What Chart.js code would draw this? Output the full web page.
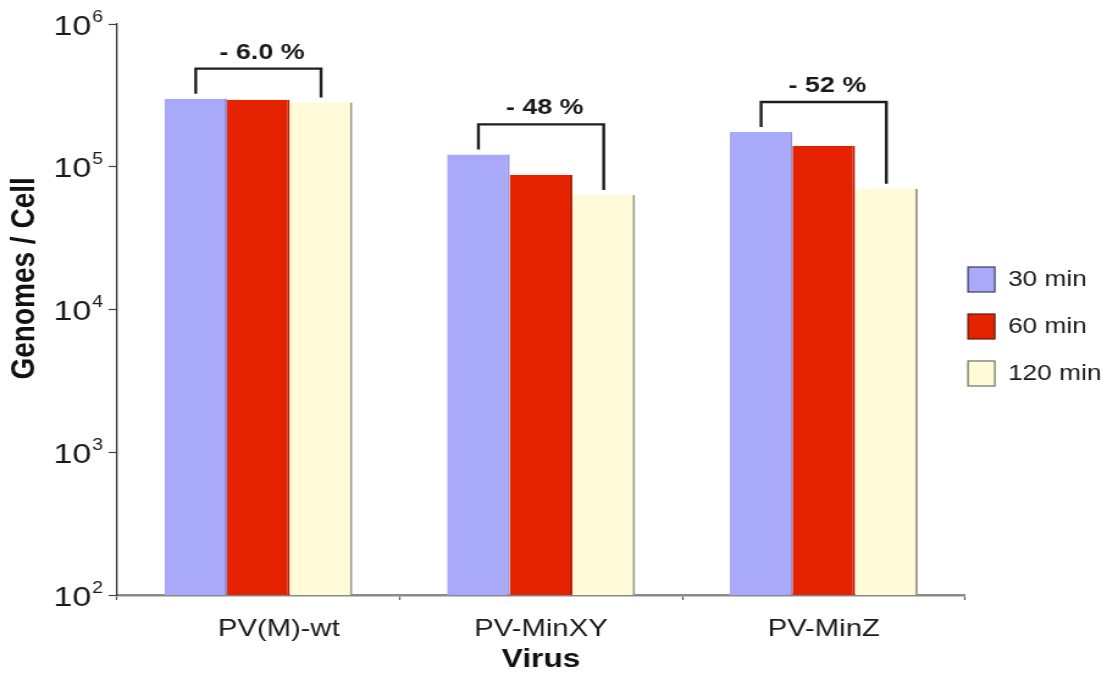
<!DOCTYPE html>
<html>
<head>
<meta charset="utf-8">
<title>Genomes per cell by virus</title>
<script src="https://cdn.jsdelivr.net/npm/chart.js@4.4.1/dist/chart.umd.min.js"></script>
<style>
  html, body { margin: 0; padding: 0; background: #ffffff; overflow: hidden; }
  #wrap { width: 1107px; height: 685px; overflow: hidden; }
  /* the figure is drawn on a narrower canvas and widened to the page */
  #c { display: block; transform: scaleX(1.2205); transform-origin: 0 0; }
</style>
</head>
<body>
<div id="wrap"><canvas id="c" width="907" height="685"></canvas></div>
<script>
// ---- data ----
const categories = ['PV(M)-wt', 'PV-MinXY', 'PV-MinZ'];
const seriesNames = ['30 min', '60 min', '120 min'];
const min30 = [300000, 122000, 175000];
const min60 = [295000, 88000, 140000];
const min120 = [282000, 63500, 70000];
const dropLabels = ['- 6.0 %', '- 48 %', '- 52 %'];
const yTicks = [1e2, 1e3, 1e4, 1e5, 1e6];

// ---- styles ----
const FONT = '"Liberation Sans", Arial, Helvetica, sans-serif';
const INK = '#1a1a1a';
const fills = ['#a9a9f9', '#e52200', '#fffbd8'];
const edges = ['#9090dc', '#b81a00', '#9a998a'];
const legendEdges = ['#3c3c5a', '#5a1a10', '#6e6e5e'];

Chart.defaults.font.family = FONT;
Chart.defaults.color = INK;

// powers of ten on the value axis, written as 10 with a raised exponent
const powerLabels = {
  id: 'powerLabels',
  afterDraw(chart) {
    const scale = chart.scales.y;
    const ctx = chart.ctx;
    const right = scale.right - 7 - 4.5;
    ctx.save();
    ctx.fillStyle = INK;
    ctx.textBaseline = 'alphabetic';
    scale.ticks.forEach(t => {
      const y = scale.getPixelForValue(t.value);
      const exp = String(Math.round(Math.log10(t.value)));
      ctx.font = '16px ' + FONT;
      const ew = ctx.measureText(exp).width;
      ctx.textAlign = 'right';
      ctx.fillText(exp, right, y - 2.5);
      ctx.font = '28px ' + FONT;
      ctx.fillText('10', right - ew - 0.6, y + 10.5);
    });
    ctx.restore();
  }
};

// legend on the right, one box per series
const sideLegend = {
  id: 'sideLegend',
  afterDraw(chart) {
    const ctx = chart.ctx;
    const x = chart.chartArea.right + 2.4;
    ctx.save();
    chart.data.datasets.forEach((ds, i) => {
      const top = 267 + i * 47;
      ctx.fillStyle = ds.backgroundColor;
      ctx.fillRect(x, top, 22, 25);
      ctx.strokeStyle = legendEdges[i];
      ctx.lineWidth = 1.2;
      ctx.strokeRect(x, top, 22, 25);
      ctx.fillStyle = INK;
      ctx.font = '21.5px ' + FONT;
      ctx.textAlign = 'left';
      ctx.textBaseline = 'middle';
      ctx.fillText(ds.label, x + 32.8, top + 13);
    });
    ctx.restore();
  }
};

// bracket from the 30 min bar to the 120 min bar with the drop above it
const dropBrackets = {
  id: 'dropBrackets',
  afterDatasetsDraw(chart) {
    const ctx = chart.ctx;
    const first = chart.getDatasetMeta(0).data;
    const mid = chart.getDatasetMeta(1).data;
    const last = chart.getDatasetMeta(2).data;
    ctx.save();
    categories.forEach((c, i) => {
      const a = first[i], b = mid[i], z = last[i];
      const peak = Math.min(a.y, b.y, z.y);
      const top = peak - 30;
      ctx.beginPath();
      ctx.moveTo(a.x, a.y - 5);
      ctx.lineTo(a.x, top);
      ctx.lineTo(z.x, top);
      ctx.lineTo(z.x, z.y - 5);
      ctx.strokeStyle = '#1e1e1e';
      ctx.lineWidth = 2.4;
      ctx.lineJoin = 'miter';
      ctx.stroke();
      ctx.fillStyle = INK;
      ctx.font = 'bold 22px ' + FONT;
      ctx.textAlign = 'center';
      ctx.textBaseline = 'middle';
      ctx.fillText(dropLabels[i], (a.x + z.x) / 2 + 3, top - 16);
    });
    ctx.restore();
  }
};

const series = [min30, min60, min120];

new Chart(document.getElementById('c'), {
  type: 'bar',
  data: {
    labels: categories,
    datasets: series.map((vals, i) => ({
      label: seriesNames[i],
      data: vals,
      backgroundColor: fills[i],
      borderColor: edges[i],
      borderWidth: { top: 0, left: 0, bottom: 0, right: 2 },
      borderSkipped: false,
      categoryPercentage: 0.665,
      barPercentage: 1.0
    }))
  },
  options: {
    responsive: false,
    animation: false,
    layout: { padding: { top: 24, right: 116.3, bottom: 0, left: 0 } },
    plugins: {
      legend: { display: false },
      tooltip: { enabled: false }
    },
    scales: {
      x: {
        z: 1,
        grid: {
          display: true, drawOnChartArea: false, drawTicks: true,
          tickLength: 5, tickColor: '#555', tickWidth: 1.2, offset: true
        },
        border: { display: true, color: '#8a8a8a', width: 2.5 },
        ticks: {
          padding: 15,
          color: INK,
          font: { size: 24 },
          // the first name sits a little right of its bar group
          callback: (v, i) => (i === 0 ? '     ' : '') + categories[i]
        },
        title: {
          display: true,
          text: 'Virus',
          color: '#111',
          font: { size: 26, weight: 'bold' },
          padding: { top: 0, bottom: 9.4 }
        },
        afterFit(scale) { scale.height = 90; }
      },
      y: {
        type: 'logarithmic',
        min: 100,
        max: 1e6,
        grid: {
          display: true, drawOnChartArea: false, drawTicks: true,
          tickLength: 7, tickColor: '#444', tickWidth: 1.2
        },
        border: { display: true, color: '#333', width: 1.3 },
        afterBuildTicks(scale) {
          scale.ticks = yTicks.map(v => ({ value: v, major: true }));
        },
        ticks: {
          padding: 4.5,
          font: { size: 28 },
          callback: () => ''
        },
        title: {
          display: true,
          text: '        Genomes / Cell',
          color: '#111',
          font: { size: 28, weight: 'bold' },
          padding: { top: 3.8, bottom: 0 }
        },
        afterFit(scale) { scale.width = 95.9; }
      }
    }
  },
  plugins: [dropBrackets, powerLabels, sideLegend]
});
</script>
</body>
</html>
